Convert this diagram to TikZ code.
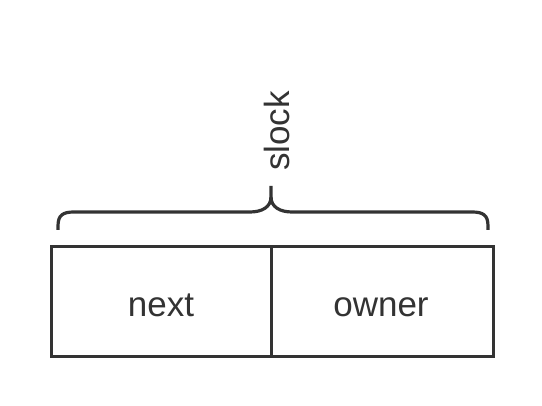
\documentclass[tikz,border=0pt]{standalone}
\usepackage{fontspec}
\setmainfont{Liberation Sans}
\definecolor{ink}{HTML}{333333}
\begin{document}
\begin{tikzpicture}[x=1pt,y=-1pt,
  line/.style={draw=ink,line width=3.2pt},
  lbl/.style={text=ink,font=\fontsize{35}{40}\selectfont,inner sep=0pt}]
\useasboundingbox (0,0) rectangle (542,406);
\node[line,minimum width=220pt,minimum height=110pt,anchor=north west,inner sep=0pt] (left) at (50,245) {};
\node[line,minimum width=222pt,minimum height=110pt,anchor=north west,inner sep=0pt] (right) at (270,245) {};
\node[lbl,anchor=base] (next) at (161,317) {next};
\node[lbl,anchor=base] (owner) at (381,317) {owner};
\coordinate (tip) at (271,186);
\draw[line,line cap=butt] (58,230) -- (58,226) .. controls (58,215) and (63,212) .. (74,212)
  -- (250,212) .. controls (262,212) and (271,207) .. (271,197) -- (tip);
\draw[line,line cap=butt] (488,230) -- (488,226) .. controls (488,215) and (483,212) .. (472,212)
  -- (292,212) .. controls (280,212) and (271,207) .. (271,197);
\node[lbl,rotate=90] (slock) at (277,131) {slock};
\end{tikzpicture}
\end{document}
